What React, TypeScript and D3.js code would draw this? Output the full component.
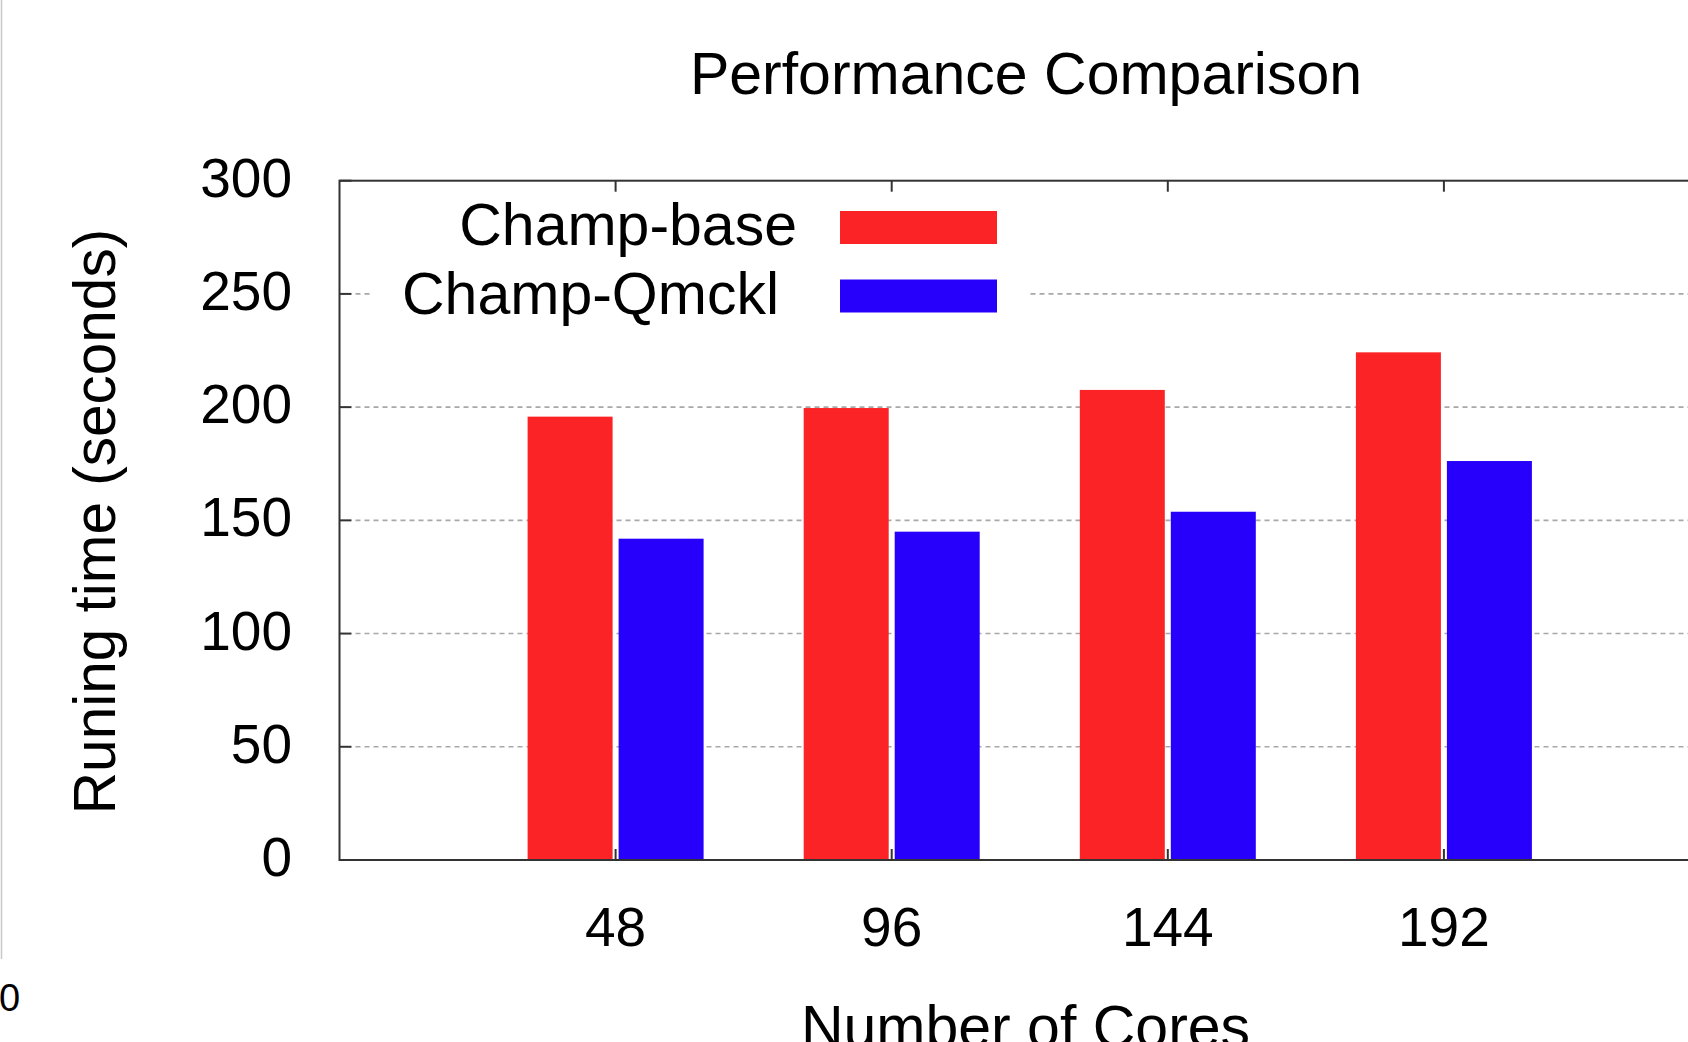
import { useEffect, useRef } from 'react';
import * as d3 from 'd3';

// chart data
const cores = ['48', '96', '144', '192'];
const seriesNames = ['Champ-base', 'Champ-Qmckl'];
const seriesColors = ['#fb2326', '#2600fb'];
const champBase = [195.8, 199.6, 207.6, 224.2];
const champQmckl = [141.9, 145.0, 153.8, 176.2];
const yTicks = [0, 50, 100, 150, 200, 250, 300];

const FONT = '"Liberation Sans", Arial, Helvetica, sans-serif';

const App = () => {
  const svgRef = useRef<SVGSVGElement | null>(null);

  useEffect(() => {
    const width = 1688;
    const height = 1042;

    // plot frame (right edge runs past the picture and gets clipped)
    const left = 339.5;
    const right = 1720;
    const top = 180.7;
    const bottom = 860;

    const barWidth = 85;
    const barGap = 6;

    d3.select(svgRef.current).selectAll('*').remove();

    const svg = d3.select(svgRef.current)
      .attr('width', width)
      .attr('height', height);

    svg.append('rect')
      .attr('width', width)
      .attr('height', height)
      .attr('fill', 'white');

    const x = d3.scalePoint<string>()
      .domain(cores)
      .range([left, right])
      .padding(1);

    const y = d3.scaleLinear()
      .domain([0, 300])
      .range([bottom, top]);

    // dotted grid, behind the bars
    svg.append('g')
      .selectAll('line')
      .data(yTicks.slice(1, -1))
      .enter()
      .append('line')
      .attr('x1', left + 16)
      .attr('x2', right)
      .attr('y1', d => y(d))
      .attr('y2', d => y(d))
      .attr('stroke', '#a8a8a8')
      .attr('stroke-width', 1.6)
      .attr('stroke-dasharray', '5 4');

    // bars
    const series = [champBase, champQmckl];
    series.forEach((values, si) => {
      svg.append('g')
        .selectAll('rect')
        .data(values)
        .enter()
        .append('rect')
        .attr('x', (d, i) => {
          const c = x(cores[i]) as number;
          return si === 0 ? c - barGap / 2 - barWidth : c + barGap / 2;
        })
        .attr('y', d => y(d))
        .attr('width', barWidth)
        .attr('height', d => y(0) - y(d))
        .attr('fill', seriesColors[si]);
    });

    // legend, with a white box that hides the grid behind it
    svg.append('rect')
      .attr('x', 371)
      .attr('y', 192)
      .attr('width', 659)
      .attr('height', 138)
      .attr('fill', 'white');

    const legendTextEnd = [797, 779];
    seriesNames.forEach((name, i) => {
      const cy = 227.5 + i * 68.5;
      svg.append('text')
        .attr('x', legendTextEnd[i])
        .attr('y', cy + 17.5)
        .attr('text-anchor', 'end')
        .style('font-family', FONT)
        .style('font-size', '59px')
        .attr('fill', 'black')
        .text(name);
      svg.append('rect')
        .attr('x', 840)
        .attr('y', cy - 16.5)
        .attr('width', 157)
        .attr('height', 33)
        .attr('fill', seriesColors[i]);
    });

    // frame
    svg.append('rect')
      .attr('x', left)
      .attr('y', top)
      .attr('width', right - left)
      .attr('height', bottom - top)
      .attr('fill', 'none')
      .attr('stroke', '#333')
      .attr('stroke-width', 2);

    // y ticks (inward) and labels
    svg.append('g')
      .selectAll('line')
      .data(yTicks)
      .enter()
      .append('line')
      .attr('x1', left)
      .attr('x2', left + 12)
      .attr('y1', d => y(d))
      .attr('y2', d => y(d))
      .attr('stroke', '#333')
      .attr('stroke-width', 2);

    svg.append('g')
      .selectAll('text')
      .data(yTicks)
      .enter()
      .append('text')
      .attr('x', 292)
      .attr('y', d => y(d) + 16)
      .attr('text-anchor', 'end')
      .style('font-family', FONT)
      .style('font-size', '55px')
      .attr('fill', 'black')
      .text(d => d);

    // x ticks, bottom and top, pointing inward
    svg.append('g')
      .selectAll('line')
      .data(cores)
      .enter()
      .append('line')
      .attr('x1', d => x(d) as number)
      .attr('x2', d => x(d) as number)
      .attr('y1', bottom)
      .attr('y2', bottom - 11)
      .attr('stroke', '#333')
      .attr('stroke-width', 2);

    svg.append('g')
      .selectAll('line')
      .data(cores)
      .enter()
      .append('line')
      .attr('x1', d => x(d) as number)
      .attr('x2', d => x(d) as number)
      .attr('y1', top)
      .attr('y2', top + 11)
      .attr('stroke', '#333')
      .attr('stroke-width', 2);

    svg.append('g')
      .selectAll('text')
      .data(cores)
      .enter()
      .append('text')
      .attr('x', d => x(d) as number)
      .attr('y', 946)
      .attr('text-anchor', 'middle')
      .style('font-family', FONT)
      .style('font-size', '55px')
      .attr('fill', 'black')
      .text(d => d);

    // title and axis labels
    svg.append('text')
      .attr('x', 1026)
      .attr('y', 93.5)
      .attr('text-anchor', 'middle')
      .style('font-family', FONT)
      .style('font-size', '59px')
      .attr('fill', 'black')
      .text('Performance Comparison');

    svg.append('text')
      .attr('x', 1025.5)
      .attr('y', 1046.5)
      .attr('text-anchor', 'middle')
      .style('font-family', FONT)
      .style('font-size', '59px')
      .attr('fill', 'black')
      .text('Number of Cores');

    svg.append('text')
      .attr('transform', 'translate(115, 521.5) rotate(-90)')
      .attr('text-anchor', 'middle')
      .style('font-family', FONT)
      .style('font-size', '58.5px')
      .attr('fill', 'black')
      .text('Runing time (seconds)');

    // leftover bits at the page edge
    svg.append('line')
      .attr('x1', 1.5)
      .attr('x2', 1.5)
      .attr('y1', 0)
      .attr('y2', 959)
      .attr('stroke', '#c8c8c8')
      .attr('stroke-width', 1.5);

    svg.append('text')
      .attr('x', -1)
      .attr('y', 1011)
      .style('font-family', FONT)
      .style('font-size', '38px')
      .attr('fill', 'black')
      .text('0');
  }, []);

  return (
    <svg ref={svgRef} style={{ position: 'absolute', left: 0, top: 0, display: 'block' }}></svg>
  );
};

export default App;
